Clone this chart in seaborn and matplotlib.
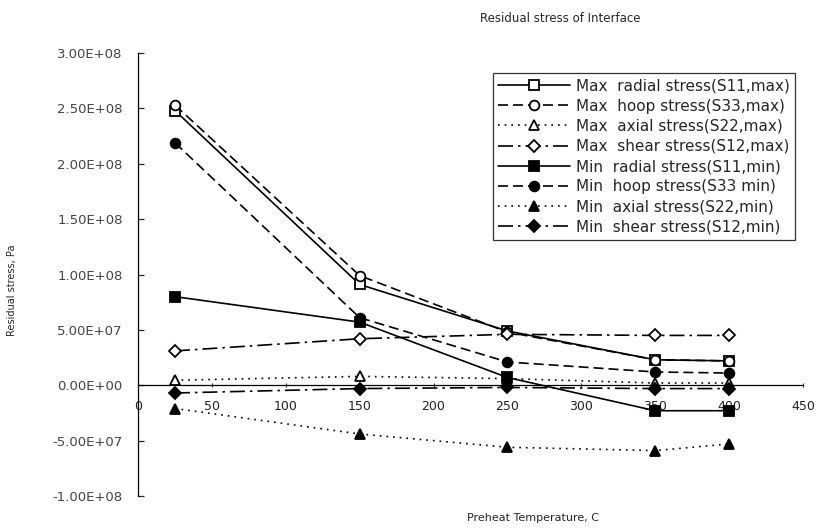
import numpy as np
import pandas as pd
import matplotlib
matplotlib.use("Agg")
import matplotlib.pyplot as plt
from matplotlib.ticker import FuncFormatter
import seaborn as sns

# ---- data ----
temps = [25, 150, 250, 350, 400]
max_radial = [2.48e8, 0.91e8, 4.9e7, 2.3e7, 2.2e7]
max_hoop = [2.53e8, 0.99e8, 4.8e7, 2.3e7, 2.2e7]
max_axial = [4.5e6, 8.0e6, 6.0e6, 2.0e6, 2.0e6]
max_shear = [3.1e7, 4.2e7, 4.6e7, 4.5e7, 4.5e7]
min_radial = [8.0e7, 5.7e7, 7.0e6, -2.3e7, -2.3e7]
min_hoop = [2.19e8, 6.1e7, 2.1e7, 1.2e7, 1.1e7]
min_axial = [-2.1e7, -4.4e7, -5.6e7, -5.9e7, -5.3e7]
min_shear = [-7.0e6, -3.0e6, -2.0e6, -3.0e6, -3.0e6]

labels = [
    "Max  radial stress(S11,max)",
    "Max  hoop stress(S33,max)",
    "Max  axial stress(S22,max)",
    "Max  shear stress(S12,max)",
    "Min  radial stress(S11,min)",
    "Min  hoop stress(S33 min)",
    "Min  axial stress(S22,min)",
    "Min  shear stress(S12,min)",
]
series = [max_radial, max_hoop, max_axial, max_shear,
          min_radial, min_hoop, min_axial, min_shear]
x_ticks = [0, 50, 100, 150, 200, 250, 300, 350, 400, 450]
y_ticks = [-1e8, -5e7, 0, 5e7, 1e8, 1.5e8, 2e8, 2.5e8, 3e8]

sns.set_style("white")
plt.rcParams["font.family"] = ["DejaVu Sans"]

fig = plt.figure(figsize=(8.23, 5.28), dpi=100)
ax = fig.add_axes([138 / 823, 1 - 496 / 528, (803 - 138) / 823, (496 - 53) / 528])

markers = ["s", "o", "^", "D", "s", "o", "^", "D"]
filled = [False] * 4 + [True] * 4
dashes = [(None), (6, 3), (1, 3), (9, 3, 1.5, 3)] * 2
msizes = [7, 7, 7, 6, 7, 7, 7, 6]

for vals, lab, mk, fl, ds, ms in zip(series, labels, markers, filled, dashes, msizes):
    df = pd.DataFrame({"T": temps, "S": vals})
    kw = dict(color="black", marker=mk, markersize=ms, linewidth=1.2,
              markeredgecolor="black", markeredgewidth=1.3,
              markerfacecolor="black" if fl else "white", label=lab)
    sns.lineplot(data=df, x="T", y="S", ax=ax, **kw)
    ln = ax.lines[-1]
    if ds is not None:
        ln.set_dashes(ds)

ax.set_xlim(0, 450)
ax.set_ylim(-1e8, 3e8)
ax.set_xticks(x_ticks)
ax.set_yticks(y_ticks)
ax.yaxis.set_major_formatter(FuncFormatter(lambda v, p: f"{v:.2E}"))
ax.set_xlabel("")
ax.set_ylabel("")

for s in ["top", "right"]:
    ax.spines[s].set_visible(False)
ax.spines["bottom"].set_position(("data", 0))
ax.spines["left"].set_color("black")
ax.spines["bottom"].set_color("black")
ax.spines["left"].set_linewidth(0.9)
ax.spines["bottom"].set_linewidth(0.9)

ax.tick_params(axis="y", direction="in", length=4, width=0.9, pad=11,
               labelsize=9.5, labelcolor="#444444", left=True)
ax.tick_params(axis="x", direction="inout", length=3, width=0.8, pad=9,
               labelsize=9, labelcolor="#222222", bottom=True)

leg = ax.legend(loc="upper left", bbox_to_anchor=(493 / 823, 1 - 73 / 528),
                bbox_transform=fig.transFigure, borderaxespad=0, frameon=True,
                fancybox=False, shadow=False, fontsize=11, handlelength=4.7,
                handletextpad=0.35, labelspacing=0.34, borderpad=0.35,
                edgecolor="black")
leg.get_frame().set_linewidth(0.9)

fig.text(560 / 823, 1 - 18 / 528, "Residual stress of Interface",
         ha="center", va="center", fontsize=8.5)
fig.text(533 / 823, 1 - 518 / 528, "Preheat Temperature, C",
         ha="center", va="center", fontsize=8)
fig.text(12 / 823, 1 - 290 / 528, "Residual stress, Pa", rotation=90,
         ha="center", va="center", fontsize=7)

fig.savefig("out.png", dpi=100)
